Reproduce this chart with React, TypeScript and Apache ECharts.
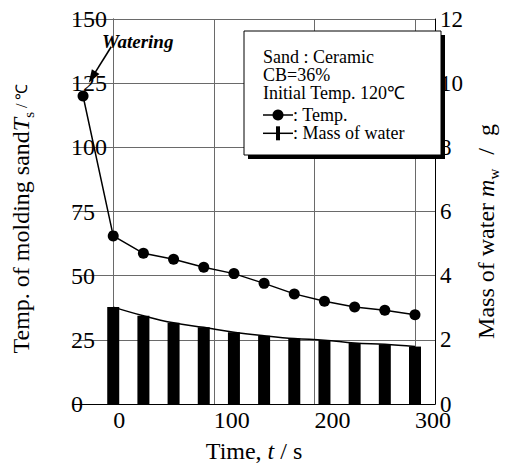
import React, { useEffect, useRef } from "react";
import * as echarts from "echarts";

// ---- data ----
const tempTimes = [-30, 0, 30, 60, 90, 120, 150, 180, 210, 240, 270, 300];
const tempValues = [120, 65.5, 58.7, 56.4, 53.3, 50.8, 47.0, 42.9, 40.0, 37.8, 36.5, 34.8];
const massTimes = [0, 30, 60, 90, 120, 150, 180, 210, 240, 270, 300];
const massValues = [3.02, 2.75, 2.53, 2.39, 2.24, 2.13, 2.04, 1.99, 1.9, 1.86, 1.79];
const timeTicks = [0, 100, 200, 300];
const legendLines = ["Sand : Ceramic", "CB=36%", "Initial Temp. 120℃"];
const legendTemp = ": Temp.";
const legendMass = ": Mass of water";
const annotationText = "Watering";
const arrowStart = [-2, 139.2];
const arrowTip = [-24.3, 125.2];

const SERIF = "Liberation Serif, Times New Roman, serif";

export default function App() {
  const ref = useRef<HTMLDivElement>(null);
  useEffect(() => {
    if (!ref.current) return;
    const chart = echarts.init(ref.current, null, { renderer: "svg" });
    const tempData = tempTimes.map((t, i) => [t, tempValues[i]]);
    const massData = massTimes.map((t, i) => [t, massValues[i]]);

    const rich = {
      n: { fontFamily: SERIF, fontSize: 24, color: "#000", lineHeight: 30 },
      i: { fontFamily: SERIF, fontSize: 24, fontStyle: "italic", color: "#000", lineHeight: 30 },
      sub: { fontFamily: SERIF, fontSize: 15, color: "#000", lineHeight: 15, verticalAlign: "bottom" },
      sm: { fontFamily: SERIF, fontSize: 16, color: "#000", lineHeight: 30 },
      sl: { fontFamily: SERIF, fontSize: 24, color: "#000", lineHeight: 30, padding: [0, 12, 0, 14] },
    };

    const legendX = 263;
    const legendYs = [56.7, 75, 93.3];
    const legendFont = { fontFamily: SERIF, fontSize: 18, fill: "#000", verticalAlign: "middle" };

    const graphic: any[] = [
      {
        id: "shadow",
        type: "rect",
        z: 100,
        shape: { x: 248, y: 35, width: 197, height: 124 },
        style: { fill: "#000" },
      },
      {
        id: "box",
        type: "rect",
        z: 101,
        shape: { x: 244, y: 31, width: 197, height: 124 },
        style: { fill: "#fff", stroke: "#000", lineWidth: 1 },
      },
      ...legendLines.map((txt, i) => ({
        id: "lg" + i,
        type: "text",
        z: 102,
        x: legendX,
        y: legendYs[i],
        style: { text: txt, ...legendFont },
      })),
      {
        id: "lgTempLine",
        type: "line",
        z: 102,
        shape: { x1: legendX, y1: 115, x2: legendX + 30, y2: 115 },
        style: { stroke: "#000", lineWidth: 1.5 },
      },
      {
        id: "lgTempDot",
        type: "circle",
        z: 103,
        shape: { cx: legendX + 15, cy: 115, r: 5.5 },
        style: { fill: "#000" },
      },
      {
        id: "lgTempText",
        type: "text",
        z: 102,
        x: legendX + 30,
        y: 115,
        style: { text: legendTemp, ...legendFont },
      },
      {
        id: "lgMassLine",
        type: "line",
        z: 102,
        shape: { x1: legendX, y1: 133.3, x2: legendX + 30, y2: 133.3 },
        style: { stroke: "#000", lineWidth: 1.5 },
      },
      {
        id: "lgMassBar",
        type: "rect",
        z: 103,
        shape: { x: legendX + 13, y: 126.3, width: 4, height: 14 },
        style: { fill: "#000" },
      },
      {
        id: "lgMassText",
        type: "text",
        z: 102,
        x: legendX + 30,
        y: 133.3,
        style: { text: legendMass, ...legendFont },
      },
      {
        id: "water",
        type: "text",
        z: 102,
        x: 102,
        y: 41,
        style: {
          text: annotationText,
          fontFamily: SERIF,
          fontSize: 19,
          fontStyle: "italic",
          fontWeight: "bold",
          fill: "#000",
          verticalAlign: "middle",
        },
      },
    ];

    const option: any = {
      animation: false,
      textStyle: { fontFamily: SERIF },
      grid: { left: 73, right: 47, top: 19, bottom: 61, containLabel: false },
      xAxis: {
        type: "value",
        min: -40,
        max: 320,
        interval: 20,
        name: "{n|Time, }{i|t}{n| / s}",
        nameLocation: "middle",
        nameGap: 32,
        nameTextStyle: { rich },
        axisLine: { show: true, onZero: false, lineStyle: { color: "#000", width: 1 } },
        axisTick: { show: false },
        splitLine: { show: false },
        axisLabel: {
          fontFamily: SERIF,
          fontSize: 24,
          color: "#000",
          align: "left",
          margin: 4,
          showMinLabel: false,
          showMaxLabel: false,
          formatter: (v: number) =>
            timeTicks.includes(Math.round(v)) && Math.abs(v - Math.round(v)) < 1e-6 ? String(Math.round(v)) : "",
        },
      },
      yAxis: [
        {
          type: "value",
          min: 0,
          max: 150,
          interval: 25,
          position: "left",
          name: "{n|Temp. of molding sand}{i|T}{sub|s}{sm| / ℃}",
          nameLocation: "middle",
          nameRotate: 90,
          nameGap: 37,
          nameTextStyle: { rich, padding: [0, 14, 0, 0] },
          axisLine: { show: true, lineStyle: { color: "#000", width: 1 } },
          axisTick: { show: false },
          splitLine: { show: true, lineStyle: { color: "#6a6a6a", width: 1 } },
          axisLabel: {
            inside: true,
            margin: -2,
            fontFamily: SERIF,
            fontSize: 24,
            color: "#000",
          },
        },
        {
          type: "value",
          min: 0,
          max: 12,
          interval: 2,
          position: "right",
          name: "{n|Mass of water }{i|m}{sub|w}{sl|/}{n|g}",
          nameLocation: "middle",
          nameRotate: 90,
          nameGap: 25,
          nameTextStyle: { rich, padding: [0, 40, 0, 0] },
          axisLine: { show: true, lineStyle: { color: "#000", width: 1 } },
          axisTick: { show: false },
          splitLine: { show: false },
          axisLabel: {
            margin: 5,
            fontFamily: SERIF,
            fontSize: 23,
            color: "#000",
          },
        },
      ],
      series: [
        {
          type: "bar",
          yAxisIndex: 1,
          data: massData,
          barWidth: 12,
          itemStyle: { color: "#000" },
          z: 2,
          markLine: {
            silent: true,
            z: 1,
            symbol: ["none", "none"],
            label: { show: false },
            lineStyle: { color: "#6a6a6a", width: 1, type: "solid" },
            data: timeTicks.map((t) => ({ xAxis: t })),
          },
        },
        {
          type: "line",
          yAxisIndex: 1,
          data: massData,
          smooth: 0.4,
          showSymbol: false,
          symbol: "none",
          lineStyle: { color: "#000", width: 1.5 },
          z: 3,
        },
        {
          type: "line",
          yAxisIndex: 0,
          data: tempData,
          symbol: "circle",
          symbolSize: 11,
          itemStyle: { color: "#000" },
          lineStyle: { color: "#000", width: 1.5 },
          z: 4,
        },
      ],
      graphic,
    };
    chart.setOption(option);

    // arrow of the "Watering" annotation, placed through the chart's own scales
    const p1 = chart.convertToPixel({ xAxisIndex: 0, yAxisIndex: 0 }, arrowStart) as number[];
    const p2 = chart.convertToPixel({ xAxisIndex: 0, yAxisIndex: 0 }, arrowTip) as number[];
    if (p1 && p2) {
      const dx = p2[0] - p1[0];
      const dy = p2[1] - p1[1];
      const len = Math.sqrt(dx * dx + dy * dy) || 1;
      const ux = dx / len;
      const uy = dy / len;
      const headLen = 13;
      const halfW = 4.5;
      const bx = p2[0] - ux * headLen;
      const by = p2[1] - uy * headLen;
      chart.setOption({
        graphic: [
          ...graphic,
          {
            id: "arrowLine",
            type: "line",
            z: 102,
            shape: { x1: p1[0], y1: p1[1], x2: bx + ux * 2, y2: by + uy * 2 },
            style: { stroke: "#000", lineWidth: 1.6 },
          },
          {
            id: "arrowHead",
            type: "polygon",
            z: 102,
            shape: {
              points: [
                [p2[0], p2[1]],
                [bx - uy * halfW, by + ux * halfW],
                [bx + uy * halfW, by - ux * halfW],
              ],
            },
            style: { fill: "#000" },
          },
        ],
      });
    }
    return () => chart.dispose();
  }, []);
  return (
    <div
      ref={ref}
      style={{ position: "fixed", left: 0, top: 0, width: 509, height: 468, background: "#fff" }}
    />
  );
}
